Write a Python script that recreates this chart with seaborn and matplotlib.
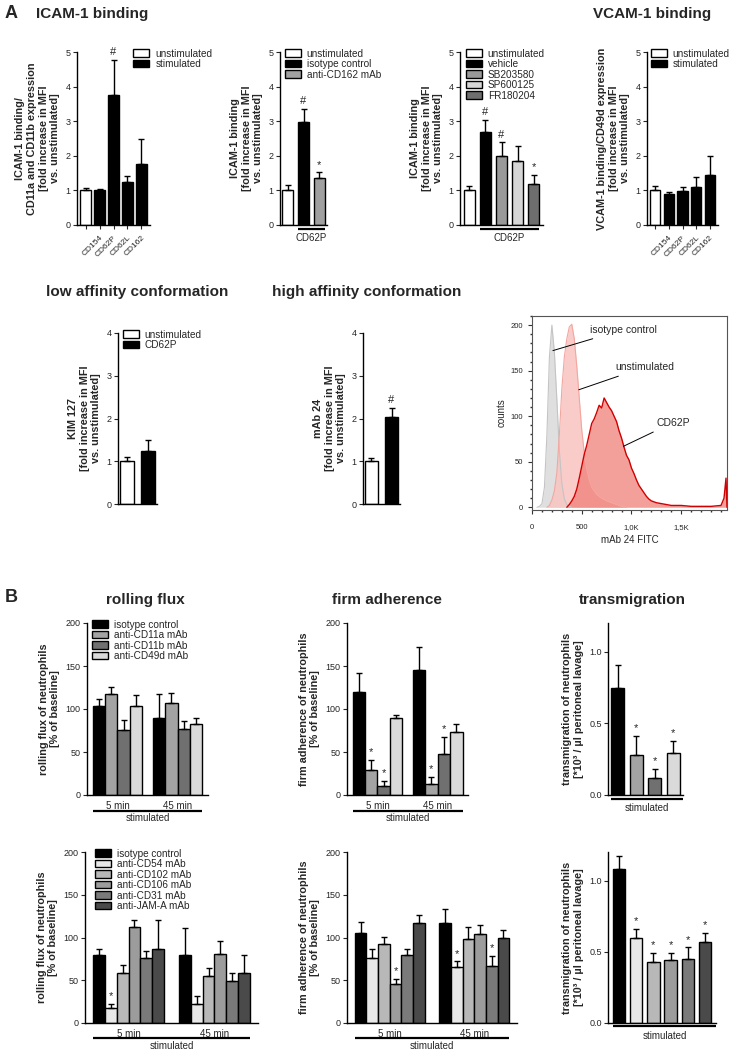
import numpy as np
import pandas as pd
import matplotlib
matplotlib.use("Agg")
import matplotlib.pyplot as plt
import matplotlib.transforms as mtransforms
from matplotlib.patches import Patch
from matplotlib.ticker import MultipleLocator
import seaborn as sns

sns.set_theme(style="ticks")
plt.rcParams["font.family"] = ["Liberation Sans", "DejaVu Sans"]
plt.rcParams.update({
    "axes.linewidth": 1.0,
    "xtick.major.width": 0.8,
    "ytick.major.width": 0.8,
    "xtick.major.size": 3,
    "ytick.major.size": 3,
    "xtick.labelsize": 6.5,
    "ytick.labelsize": 6.5,
    "axes.edgecolor": "black",
})

# ---------- data: panel A ----------
icam_conds = ["unstimulated", "CD154", "CD62P", "CD62L", "CD162"]
icam_vals = [1.0, 1.0, 3.75, 1.24, 1.75]
icam_err = [0.07, 0.03, 1.02, 0.17, 0.73]
icam_marks = ["", "", "#", "", ""]

psgl_conds = ["unstimulated", "isotype control", "anti-CD162 mAb"]
psgl_vals = [1.0, 2.98, 1.36]
psgl_err = [0.17, 0.37, 0.16]
psgl_marks = ["", "#", "*"]

mapk_conds = ["unstimulated", "vehicle", "SB203580", "SP600125", "FR180204"]
mapk_vals = [1.0, 2.68, 2.0, 1.84, 1.19]
mapk_err = [0.12, 0.36, 0.39, 0.43, 0.25]
mapk_marks = ["", "#", "#", "", "*"]

vcam_conds = ["unstimulated", "CD154", "CD62P", "CD62L", "CD162"]
vcam_vals = [1.0, 0.89, 0.98, 1.1, 1.44]
vcam_err = [0.14, 0.05, 0.12, 0.3, 0.54]

kim_conds = ["unstimulated", "CD62P"]
kim_vals = [1.0, 1.25]
kim_err = [0.11, 0.24]

mab24_conds = ["unstimulated", "CD62P"]
mab24_vals = [1.0, 2.03]
mab24_err = [0.07, 0.22]
mab24_marks = ["", "#"]

# flow cytometry histogram (mAb 24 FITC)
iso_x = [50, 75, 100, 125, 150, 175, 200, 225, 250, 275, 300, 325, 350, 375, 400]
iso_counts = [0, 1, 4, 22, 80, 165, 200, 170, 118, 62, 26, 9, 3, 1, 0]
unst_x = [150, 175, 200, 225, 250, 275, 300, 325, 350, 375, 400, 425, 450, 475,
          500, 525, 550, 575, 600, 650, 700, 750, 800, 850, 900, 950]
unst_counts = [0, 2, 8, 18, 38, 80, 130, 165, 185, 198, 201, 185, 155, 120,
               85, 60, 42, 30, 22, 14, 10, 7, 5, 3, 1, 0]
cd62p_x = [350, 375, 400, 425, 450, 475, 500, 525, 550, 575, 600, 625, 650, 675,
           700, 725, 750, 775, 800, 825, 850, 875, 900, 925, 950, 975, 1000,
           1025, 1050, 1075, 1100, 1125, 1150, 1175, 1200, 1250, 1300, 1350,
           1400, 1500, 1600, 1700, 1800, 1900, 1930, 1950, 1960]
cd62p_counts = [0, 3, 7, 12, 20, 32, 45, 58, 68, 80, 92, 97, 104, 112, 109, 120,
                115, 110, 106, 100, 94, 84, 76, 66, 57, 52, 43, 37, 30, 24, 20,
                16, 12, 9, 7, 5, 4, 3, 2, 2, 1, 1, 1, 2, 10, 32, 0]

# ---------- data: panel B ----------
times = ["5 min", "45 min"]
trt1 = ["isotype control", "anti-CD11a mAb", "anti-CD11b mAb", "anti-CD49d mAb"]
roll1_vals = [[103, 118, 76, 104], [89, 107, 77, 83]]
roll1_err = [[9, 8, 11, 12], [28, 12, 9, 7]]
firm1_vals = [[120, 29, 10, 89], [145, 13, 48, 73]]
firm1_err = [[22, 12, 6, 4], [27, 8, 20, 10]]
firm1_marks = [["", "*", "*", ""], ["", "*", "*", ""]]
trans1_vals = [0.75, 0.28, 0.12, 0.29]
trans1_err = [0.16, 0.13, 0.06, 0.09]
trans1_marks = ["", "*", "*", "*"]

trt2 = ["isotype control", "anti-CD54 mAb", "anti-CD102 mAb", "anti-CD106 mAb",
        "anti-CD31 mAb", "anti-JAM-A mAb"]
roll2_vals = [[80, 18, 58, 112, 76, 86], [80, 22, 55, 81, 49, 58]]
roll2_err = [[6, 4, 10, 8, 8, 34], [31, 10, 9, 15, 9, 21]]
roll2_marks = [["", "*", "", "", "", ""], ["", "", "", "", "", ""]]
firm2_vals = [[105, 76, 92, 46, 80, 117], [117, 65, 98, 104, 67, 100]]
firm2_err = [[13, 11, 9, 6, 6, 9], [16, 7, 14, 11, 11, 9]]
firm2_marks = [["", "", "", "*", "", ""], ["", "*", "", "", "*", ""]]
trans2_vals = [1.08, 0.6, 0.43, 0.44, 0.45, 0.57]
trans2_err = [0.09, 0.06, 0.06, 0.05, 0.08, 0.06]
trans2_marks = ["", "*", "*", "*", "*", "*"]

col1 = ["black", "#a3a3a3", "#707070", "#dadada"]
col2 = ["black", "#e8e8e8", "#b8b8b8", "#9c9c9c", "#7a7a7a", "#4a4a4a"]

W, H = 733, 1050
fig = plt.figure(figsize=(W / 100, H / 100), dpi=100)


def add_ax(x0, y0, x1, y1):
    return fig.add_axes([x0 / W, 1 - y1 / H, (x1 - x0) / W, (y1 - y0) / H])


def ftext(x, y, s, size=11, ha="left"):
    fig.text(x / W, 1 - y / H, s, fontsize=size, fontweight="bold",
             ha=ha, va="center")


def style(ax, ylabel, ymax, step, fmt=None):
    sns.despine(ax=ax)
    ax.set_ylim(0, ymax)
    ax.yaxis.set_major_locator(MultipleLocator(step))
    if fmt:
        ax.yaxis.set_major_formatter(fmt)
    ax.set_xlabel("")
    ax.set_ylabel(ylabel, fontsize=7.8, fontweight="bold", linespacing=1.2)
    ax.tick_params(axis="y", direction="out", pad=1.5)


def errs(ax, bars, vals, err):
    xs = [b.get_x() + b.get_width() / 2 for b in bars]
    ax.errorbar(xs, vals, yerr=[np.zeros(len(vals)), err], fmt="none",
                ecolor="black", elinewidth=1, capsize=2.5, capthick=1)


def marks(ax, bars, vals, err, signs):
    for b, v, e, m in zip(bars, vals, err, signs):
        if m:
            ax.annotate(m, xy=(b.get_x() + b.get_width() / 2, v + e),
                        xytext=(0, 2), textcoords="offset points",
                        ha="center", va="bottom", fontsize=8)


def simple_bars(ax, conds, vals, err, colors, width=0.72):
    df = pd.DataFrame({"cond": conds, "val": vals})
    sns.barplot(data=df, x="cond", y="val", hue="cond", order=conds,
                hue_order=conds, palette=colors, width=width,
                edgecolor="black", linewidth=1, errorbar=None,
                legend=False, ax=ax)
    bars = [c[0] for c in ax.containers]
    errs(ax, bars, vals, err)
    return bars


def grouped_bars(ax, groups, trts, vals, err, colors, width=0.83):
    rows = [(g, t, v) for g, gv in zip(groups, vals) for t, v in zip(trts, gv)]
    df = pd.DataFrame(rows, columns=["time", "treatment", "val"])
    sns.barplot(data=df, x="time", y="val", hue="treatment", order=groups,
                hue_order=trts, palette=colors, width=width,
                edgecolor="black", linewidth=1, errorbar=None,
                legend=False, ax=ax)
    bars = [[ax.containers[ti][gi] for ti in range(len(trts))]
            for gi in range(len(groups))]
    for gb, gv, ge in zip(bars, vals, err):
        errs(ax, gb, gv, ge)
    ax.tick_params(axis="x", length=0, pad=4, labelsize=7)
    return bars


def underline(ax, x0, x1, text, off_line, off_text, lw=1.6):
    tr = mtransforms.offset_copy(ax.get_xaxis_transform(), fig=fig,
                                 y=-off_line, units="dots")
    ax.plot([x0, x1], [0, 0], transform=tr, color="black", lw=lw,
            clip_on=False, solid_capstyle="butt")
    tr2 = mtransforms.offset_copy(ax.get_xaxis_transform(), fig=fig,
                                  y=-off_text, units="dots")
    ax.text((x0 + x1) / 2, 0, text, transform=tr2, ha="center", va="top",
            fontsize=7)


def legend(ax, labels, colors, anchor):
    handles = [Patch(facecolor=c, edgecolor="black", linewidth=1) for c in colors]
    ax.legend(handles, labels, loc="upper left", bbox_to_anchor=anchor,
              frameon=False, fontsize=7.2, handlelength=1.6, handleheight=0.75,
              handletextpad=0.6, labelspacing=0.05, borderpad=0,
              borderaxespad=0)


# ---------- row A1 ----------
ftext(5, 13, "A", size=13)
ftext(36, 14, "ICAM-1 binding")
ftext(593, 14, "VCAM-1 binding")

ax = add_ax(77, 52, 150, 225)
bars = simple_bars(ax, icam_conds, icam_vals, icam_err,
                   ["white", "black", "black", "black", "black"], width=0.75)
marks(ax, bars, icam_vals, icam_err, icam_marks)
style(ax, "ICAM-1 binding/\nCD11a and CD11b expression\n[fold increase in MFI\nvs. unstimulated]", 5, 1)
ax.set_xticks(range(5))
ax.set_xticklabels([""] + icam_conds[1:], rotation=45, ha="right",
                   rotation_mode="anchor", fontsize=6)
legend(ax, ["unstimulated", "stimulated"], ["white", "black"], (0.77, 1.02))

ax = add_ax(280, 52, 327, 225)
bars = simple_bars(ax, psgl_conds, psgl_vals, psgl_err,
                   ["white", "black", "#a0a0a0"], width=0.7)
marks(ax, bars, psgl_vals, psgl_err, psgl_marks)
style(ax, "ICAM-1 binding\n[fold increase in MFI\nvs. unstimulated]", 5, 1)
ax.set_xticks([])
underline(ax, bars[1].get_x(), bars[-1].get_x() + bars[-1].get_width(), "CD62P", 4, 8)
legend(ax, psgl_conds, ["white", "black", "#a0a0a0"], (0.1, 1.02))

ax = add_ax(460, 52, 543, 225)
mapk_cols = ["white", "black", "#999999", "#d6d6d6", "#6e6e6e"]
bars = simple_bars(ax, mapk_conds, mapk_vals, mapk_err, mapk_cols, width=0.7)
marks(ax, bars, mapk_vals, mapk_err, mapk_marks)
style(ax, "ICAM-1 binding\n[fold increase in MFI\nvs. unstimulated]", 5, 1)
ax.set_xticks([])
underline(ax, bars[1].get_x(), bars[-1].get_x() + bars[-1].get_width(), "CD62P", 4, 8)
legend(ax, mapk_conds, mapk_cols, (0.07, 1.02))

ax = add_ax(647, 52, 718, 225)
bars = simple_bars(ax, vcam_conds, vcam_vals, vcam_err,
                   ["white", "black", "black", "black", "black"], width=0.75)
style(ax, "VCAM-1 binding/CD49d expression\n[fold increase in MFI\nvs. unstimulated]", 5, 1)
ax.set_xticks(range(5))
ax.set_xticklabels([""] + vcam_conds[1:], rotation=45, ha="right",
                   rotation_mode="anchor", fontsize=6)
legend(ax, ["unstimulated", "stimulated"], ["white", "black"], (0.05, 1.02))

# ---------- row A2 ----------
ftext(137, 292, "low affinity conformation", ha="center")
ftext(367, 292, "high affinity conformation", ha="center")

ax = add_ax(118, 333, 157, 504)
bars = simple_bars(ax, kim_conds, kim_vals, kim_err, ["white", "black"], width=0.68)
style(ax, "KIM 127\n[fold increase in MFI\nvs. unstimulated]", 4, 1)
ax.set_xticks([])
legend(ax, kim_conds, ["white", "black"], (0.12, 1.02))

ax = add_ax(363, 333, 400, 504)
bars = simple_bars(ax, mab24_conds, mab24_vals, mab24_err, ["white", "black"], width=0.68)
marks(ax, bars, mab24_vals, mab24_err, mab24_marks)
style(ax, "mAb 24\n[fold increase in MFI\nvs. unstimulated]", 4, 1)
ax.set_xticks([])

# histogram
ax = add_ax(532, 316, 727, 510)
ax.fill_between(iso_x, iso_counts, color="#dcdcdc", alpha=0.9, lw=0)
ax.plot(iso_x, iso_counts, color="#c4c4c4", lw=0.8)
ax.fill_between(unst_x, unst_counts, color="#f8c4c0", alpha=0.85, lw=0)
ax.plot(unst_x, unst_counts, color="#f3a6a0", lw=0.8)
ax.fill_between(cd62p_x, cd62p_counts, color="#f07f78", alpha=0.75, lw=0)
ax.plot(cd62p_x, cd62p_counts, color="#d10000", lw=1.0)
ax.set_xlim(0, 1960)
ax.set_ylim(-3, 210)
ax.set_xticks([0, 500, 1000, 1500])
ax.set_xticklabels(["0", "500", "1,0K", "1,5K"])
ax.set_yticks([0, 50, 100, 150, 200])
ax.xaxis.set_minor_locator(MultipleLocator(100))
ax.yaxis.set_minor_locator(MultipleLocator(10))
ax.tick_params(which="both", labelsize=5.5, color="#333333", direction="out")
ax.tick_params(axis="x", which="major", pad=7)
ax.tick_params(which="minor", length=1.5)
for s in ax.spines.values():
    s.set_color("#555555")
    s.set_linewidth(0.8)
ax.set_xlabel("mAb 24 FITC", fontsize=7, labelpad=3)
ax.set_ylabel("counts", fontsize=7, labelpad=3)
arrow = dict(arrowstyle="-", color="black", lw=0.7, shrinkA=2, shrinkB=0)
ax.annotate("isotype control", xy=(210, 172), xytext=(580, 195), fontsize=7.5,
            va="center", arrowprops=arrow)
ax.annotate("unstimulated", xy=(470, 129), xytext=(840, 154), fontsize=7.5,
            va="center", arrowprops=arrow)
ax.annotate("CD62P", xy=(920, 67), xytext=(1250, 93), fontsize=7.5,
            va="center", arrowprops=arrow)

# ---------- row B1 ----------
ftext(5, 598, "B", size=13)
ftext(145, 600, "rolling flux", ha="center")
ftext(387, 600, "firm adherence", ha="center")
ftext(632, 600, "transmigration", ha="center")

ax = add_ax(87, 623, 208, 795)
gb = grouped_bars(ax, times, trt1, roll1_vals, roll1_err, col1)
style(ax, "rolling flux of neutrophils\n[% of baseline]", 200, 50)
underline(ax, gb[0][0].get_x(), gb[-1][-1].get_x() + gb[-1][-1].get_width(),
          "stimulated", 16, 18)
legend(ax, trt1, col1, (0.04, 1.02))

ax = add_ax(347, 623, 468, 795)
gb = grouped_bars(ax, times, trt1, firm1_vals, firm1_err, col1)
for b, v, e, m in zip(gb, firm1_vals, firm1_err, firm1_marks):
    marks(ax, b, v, e, m)
style(ax, "firm adherence of neutrophils\n[% of baseline]", 200, 50)
underline(ax, gb[0][0].get_x(), gb[-1][-1].get_x() + gb[-1][-1].get_width(),
          "stimulated", 16, 18)

ax = add_ax(608, 623, 683, 795)
bars = simple_bars(ax, trt1, trans1_vals, trans1_err, col1, width=0.7)
marks(ax, bars, trans1_vals, trans1_err, trans1_marks)
style(ax, "transmigration of neutrophils\n[*10³ / µl peritoneal lavage]", 1.2, 0.5,
      fmt="{x:.1f}")
ax.set_xticks([])
underline(ax, bars[0].get_x(), ax.get_xlim()[1], "stimulated", 4, 8)

# ---------- row B2 ----------
ax = add_ax(85, 852, 258, 1023)
gb = grouped_bars(ax, times, trt2, roll2_vals, roll2_err, col2)
for b, v, e, m in zip(gb, roll2_vals, roll2_err, roll2_marks):
    marks(ax, b, v, e, m)
style(ax, "rolling flux of neutrophils\n[% of baseline]", 200, 50)
underline(ax, gb[0][0].get_x(), gb[-1][-1].get_x() + gb[-1][-1].get_width(),
          "stimulated", 15, 18)
legend(ax, trt2, col2, (0.06, 1.02))

ax = add_ax(347, 852, 517, 1023)
gb = grouped_bars(ax, times, trt2, firm2_vals, firm2_err, col2)
for b, v, e, m in zip(gb, firm2_vals, firm2_err, firm2_marks):
    marks(ax, b, v, e, m)
style(ax, "firm adherence of neutrophils\n[% of baseline]", 200, 50)
underline(ax, gb[0][0].get_x(), gb[-1][-1].get_x() + gb[-1][-1].get_width(),
          "stimulated", 15, 18)

ax = add_ax(608, 852, 716, 1023)
bars = simple_bars(ax, trt2, trans2_vals, trans2_err, col2, width=0.72)
marks(ax, bars, trans2_vals, trans2_err, trans2_marks)
style(ax, "transmigration of neutrophils\n[*10³ / µl peritoneal lavage]", 1.2, 0.5,
      fmt="{x:.1f}")
ax.set_xticks([])
underline(ax, bars[0].get_x(), ax.get_xlim()[1], "stimulated", 3, 8)

fig.savefig("out.png", dpi=100)
